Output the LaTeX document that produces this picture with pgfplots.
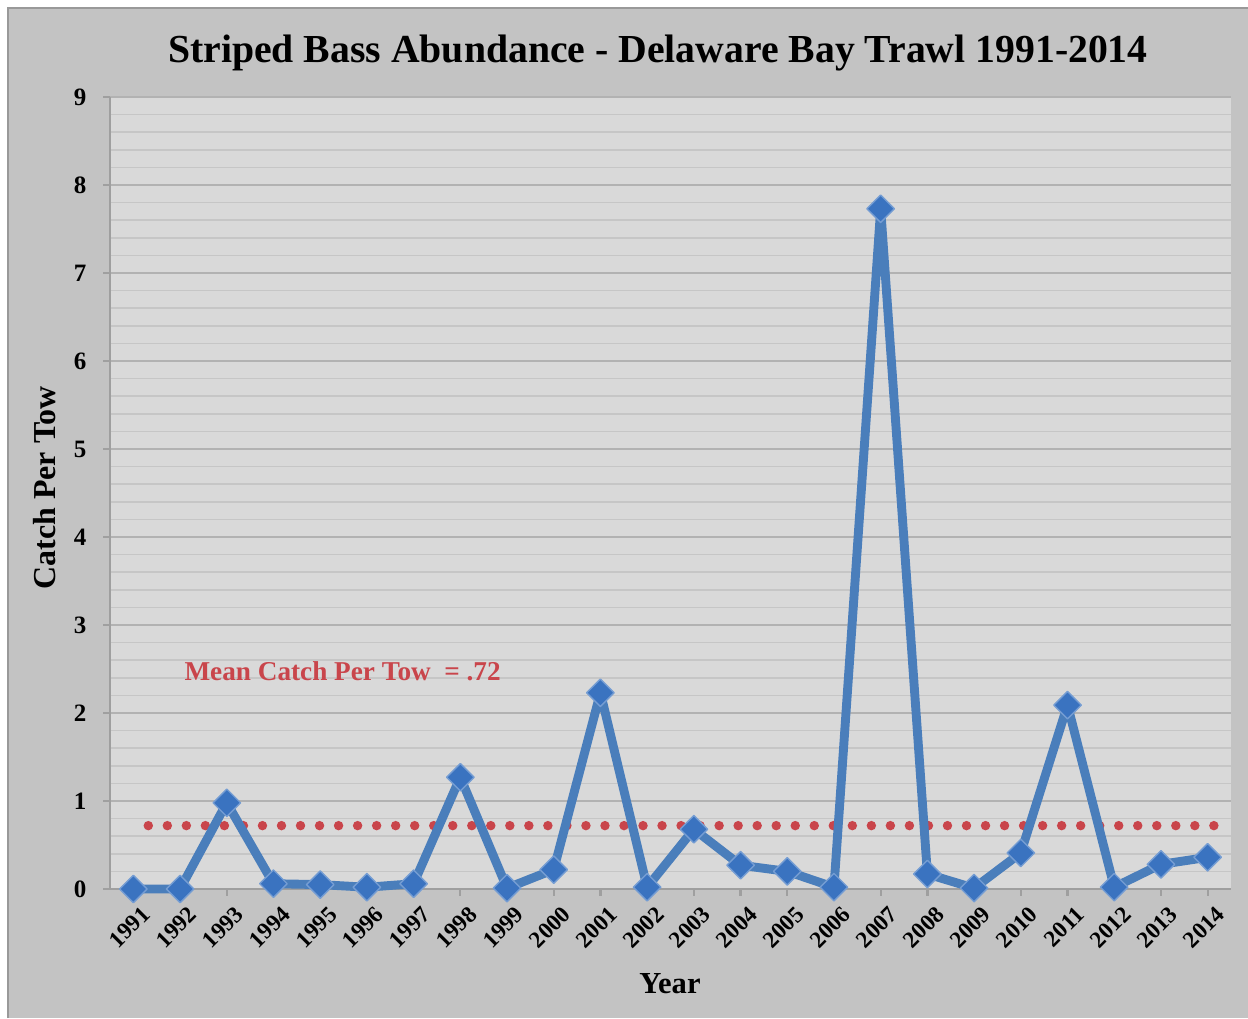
\documentclass[border=0pt]{standalone}
\usepackage{fontspec}
\setmainfont{Liberation Serif}
\usepackage{pgfplots}
\pgfplotsset{compat=1.18}
\definecolor{bgout}{HTML}{C3C3C3}
\definecolor{plotbg}{HTML}{D9D9D9}
\definecolor{majgrid}{HTML}{B2B2B2}
\definecolor{mingrid}{HTML}{C6C6C6}
\definecolor{lineblue}{HTML}{4A7EBB}
\definecolor{markblue}{HTML}{3A73C0}
\definecolor{meanred}{HTML}{C9454B}
\begin{document}
\begin{tikzpicture}
\path[use as bounding box] (0,0) rectangle (449.28pt,366.48pt);
\fill[white] (0,0) rectangle (449.28pt,366.48pt);
\fill[bgout] (2.88pt,0) rectangle (449.28pt,363.6pt);
\draw[gray!80, line width=0.8pt] (2.88pt,0) -- (2.88pt,363.6pt) -- (449.28pt,363.6pt);
\begin{axis}[
  at={(39.6pt,46.44pt)}, anchor=south west, scale only axis,
  width=403.56pt, height=285.12pt,
  xmin=-0.5, xmax=23.5, ymin=0, ymax=9,
  clip=false,
  axis background/.style={fill=plotbg},
  ytick={0,1,2,3,4,5,6,7,8,9}, minor y tick num=4,
  ymajorgrids, yminorgrids,
  major grid style={majgrid, line width=0.8pt},
  minor grid style={mingrid, line width=0.6pt},
  xtick={0,1,2,3,4,5,6,7,8,9,10,11,12,13,14,15,16,17,18,19,20,21,22,23},
  xticklabels={1991,1992,1993,1994,1995,1996,1997,1998,1999,2000,2001,2002,2003,2004,2005,2006,2007,2008,2009,2010,2011,2012,2013,2014},
  axis lines*=left,
  axis line style={-, draw=gray!75, line width=0.8pt},
  tick style={draw=gray!75, line width=0.8pt},
  tick align=outside,
  major tick length=2.5pt, minor tick length=0pt,
  /pgf/number format/assume math mode=true,
  tick label style={font=\bfseries\fontsize{9}{10}\selectfont},
  yticklabel style={xshift=-2.5pt},
  xticklabel style={rotate=45, anchor=east, xshift=3pt, yshift=-7pt, font=\bfseries\fontsize{8.4}{10}\selectfont},
]
\addplot[meanred, line width=3.4pt, line cap=round, dash pattern=on 0pt off 6.85pt] coordinates {(0.32,0.72) (23.15,0.72)};
\addplot[lineblue, line width=3.2pt, line join=round, mark=square*, mark size=3.5pt,
  mark options={rotate=45, fill=markblue, draw=markblue!70!white, line width=0.5pt, solid}]
  coordinates {
  (0,0.00) (1,0.00) (2,0.98) (3,0.06) (4,0.05) (5,0.02) (6,0.06) (7,1.27)
  (8,0.01) (9,0.22) (10,2.23) (11,0.02) (12,0.68) (13,0.27) (14,0.20) (15,0.02)
  (16,7.73) (17,0.17) (18,0.01) (19,0.41) (20,2.09) (21,0.02) (22,0.28) (23,0.36)
  };
\node[meanred, font=\bfseries\fontsize{9.8}{11}\selectfont] at (axis cs:4.48,2.47) {Mean Catch Per Tow \ = .72};
\end{axis}
\node[anchor=base, font=\bfseries\fontsize{14.3}{16}\selectfont] at (236.88pt,343.8pt) {Striped Bass Abundance - Delaware Bay Trawl 1991-2014};
\node[anchor=base, rotate=90, font=\bfseries\fontsize{11.5}{13}\selectfont] at (19.8pt,190.8pt) {Catch Per Tow};
\node[anchor=base, font=\bfseries\fontsize{11}{13}\selectfont] at (241.2pt,9pt) {Year};
\end{tikzpicture}
\end{document}
